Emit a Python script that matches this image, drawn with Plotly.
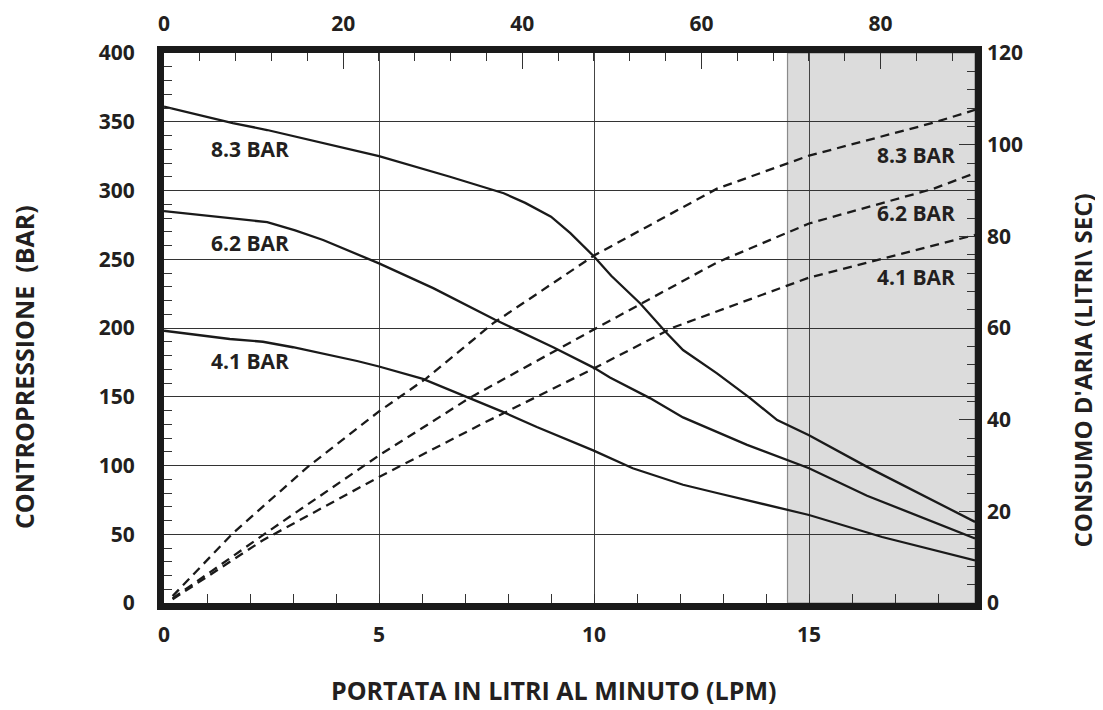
import plotly.graph_objects as go

# Solid curves: back pressure (left axis, BAR) vs flow (LPM)
x_83 = [0, 1.6, 2.4, 5.0, 6.65, 7.9, 8.4, 9.0, 9.45, 10.0, 10.4, 11.07, 11.7, 12.07, 12.86, 13.63, 14.26, 15.0, 16.35, 18.86]
y_83 = [361, 349, 344, 325, 310, 298, 291, 281, 269, 252, 238, 218, 196, 184, 167, 149, 133, 122, 99, 59]

x_62 = [0, 2.4, 3.05, 3.7, 5.0, 6.26, 7.7, 8.67, 9.05, 10.0, 10.37, 11.3, 12.07, 13.56, 15.0, 16.35, 18.86]
y_62 = [285, 277, 271, 264, 247, 229, 206, 192, 186, 171, 164, 149, 135, 115, 98, 78, 47]

x_41 = [0, 1.53, 2.3, 3.0, 4.49, 5.0, 6.02, 7.12, 7.88, 8.67, 9.98, 10.9, 12.07, 12.86, 14.49, 15.0, 16.7, 18.86]
y_41 = [198, 192, 190, 186, 176, 172, 163, 149, 139, 128, 111, 98, 86, 80, 67.5, 64, 48, 31]

# Dashed curves: air consumption (right axis, litri/sec)
xa_83 = [0.2, 1.6, 3.33, 5.0, 6.1, 7.65, 10.0, 12.86, 15.0, 17.9, 18.86]
ya_83 = [1.5, 15.2, 29.6, 41.8, 49.0, 61.0, 75.8, 90.4, 97.6, 104.8, 107.6]

xa_62 = [0.2, 2.3, 5.0, 7.1, 10.0, 12.86, 15.0, 17.9, 18.86]
ya_62 = [1.0, 14.8, 32.2, 44.7, 59.7, 74.3, 82.8, 90.4, 93.8]

xa_41 = [0.2, 2.3, 5.0, 7.42, 10.0, 11.84, 15.0, 17.9, 18.86]
ya_41 = [0.8, 13.7, 27.5, 39.2, 51.2, 60.1, 71.0, 78.0, 80.3]

# Labels
left_labels = ["8.3 BAR", "6.2 BAR", "4.1 BAR"]
left_label_y = [330, 262, 176]
right_labels = ["8.3 BAR", "6.2 BAR", "4.1 BAR"]
right_label_y = [97.7, 85.1, 71.1]

X_MAX = 18.86
X2_MAX = 90.55
Y_MAX = 400
Y2_MAX = 120
SHADE_FROM = 14.5

FONT = "Open Sans"
TXT = "#231f20"
INK = "#1a1a1a"

fig = go.Figure()

for xs, ys in [(x_83, y_83), (x_62, y_62), (x_41, y_41)]:
    fig.add_trace(go.Scatter(x=xs, y=ys, mode="lines", line=dict(color=INK, width=2.3),
                             xaxis="x", yaxis="y", showlegend=False, hoverinfo="skip"))

for xs, ys in [(xa_83, ya_83), (xa_62, ya_62), (xa_41, ya_41)]:
    fig.add_trace(go.Scatter(x=xs, y=ys, mode="lines", line=dict(color=INK, width=2.3, dash="9px,6px"),
                             xaxis="x", yaxis="y2", showlegend=False, hoverinfo="skip"))

# invisible trace to activate top axis
fig.add_trace(go.Scatter(x=[0, X2_MAX], y=[None, None], xaxis="x2", yaxis="y", showlegend=False,
                         mode="lines", hoverinfo="skip"))

tickfont = dict(family=FONT, size=21, color=TXT, weight="bold")
TC = "#333"

fig.update_layout(
    width=1103, height=710,
    margin=dict(l=156, r=136, t=45, b=115, autoexpand=False),
    paper_bgcolor="white", plot_bgcolor="white",
    xaxis=dict(range=[0, X_MAX], tickvals=[0, 5, 10, 15], ticks="inside", ticklen=9, tickcolor=TC,
               showgrid=True, gridcolor="#444", gridwidth=1.2, zeroline=False,
               showline=True, linewidth=7, linecolor=INK, mirror=True, automargin=False,
               tickfont=tickfont, ticklabelstandoff=7,
               minor=dict(dtick=1, tick0=0, ticks="inside", ticklen=9, tickcolor=TC, showgrid=False)),
    xaxis2=dict(range=[0, X2_MAX], overlaying="x", side="top", tickvals=[0, 20, 40, 60, 80],
                ticks="inside", ticklen=16, tickcolor=TC, showgrid=False, zeroline=False, automargin=False,
                tickfont=tickfont, ticklabelstandoff=17,
                minor=dict(dtick=4, tick0=0, ticks="inside", ticklen=8, tickcolor=TC, showgrid=False)),
    yaxis=dict(range=[0, Y_MAX], tickvals=[0, 50, 100, 150, 200, 250, 300, 350, 400], ticks="inside",
               ticklen=9, tickcolor=TC, showgrid=True, gridcolor="#333", gridwidth=1.2, zeroline=False,
               showline=True, linewidth=7, linecolor=INK, mirror=True, automargin=False,
               tickfont=tickfont, ticklabelstandoff=18,
               minor=dict(dtick=10, tick0=0, ticks="inside", ticklen=8, tickcolor=TC, showgrid=False)),
    yaxis2=dict(range=[0, Y2_MAX], overlaying="y", side="right", tickvals=[0, 20, 40, 60, 80, 100, 120],
                ticks="inside", ticklen=16, tickcolor=TC, showgrid=False, zeroline=False, automargin=False,
                tickfont=tickfont, ticklabelstandoff=11,
                minor=dict(dtick=4, tick0=0, ticks="inside", ticklen=8, tickcolor=TC, showgrid=False)),
)

# shaded region
fig.add_shape(type="rect", xref="x", yref="paper", x0=SHADE_FROM, x1=X_MAX, y0=0, y1=1,
              fillcolor="#dcdcdc", line=dict(color="#8a8a8a", width=1.2), layer="below")

lblfont = dict(family=FONT, size=21, color=TXT, weight="bold")
for t, yv in zip(left_labels, left_label_y):
    fig.add_annotation(x=1.07, y=yv, xref="x", yref="y", text=t, showarrow=False, xanchor="left",
                       yanchor="middle", font=lblfont, borderpad=0)
for t, yv in zip(right_labels, right_label_y):
    fig.add_annotation(x=18.42, y=yv, xref="x", yref="y2", text=t, showarrow=False, xanchor="right",
                       yanchor="middle", font=lblfont, borderpad=0)

titlefont = dict(family=FONT, size=25, color=TXT, weight="bold")
fig.add_annotation(xref="paper", yref="paper", x=0.4797, y=-0.158, text="PORTATA IN LITRI AL MINUTO (LPM)",
                   showarrow=False, xanchor="center", yanchor="middle", font=titlefont)
fig.add_annotation(xref="paper", yref="paper", x=-0.1726, y=0.429, text="CONTROPRESSIONE  (BAR)",
                   showarrow=False, textangle=-90, xanchor="center", yanchor="middle", font=titlefont)
fig.add_annotation(xref="paper", yref="paper", x=1.1325, y=0.4236, text="CONSUMO D'ARIA (LITRI\\ SEC)",
                   showarrow=False, textangle=-90, xanchor="center", yanchor="middle",
                   font=dict(family=FONT, size=24, color=TXT, weight="bold"))

fig.write_html("out.html")
